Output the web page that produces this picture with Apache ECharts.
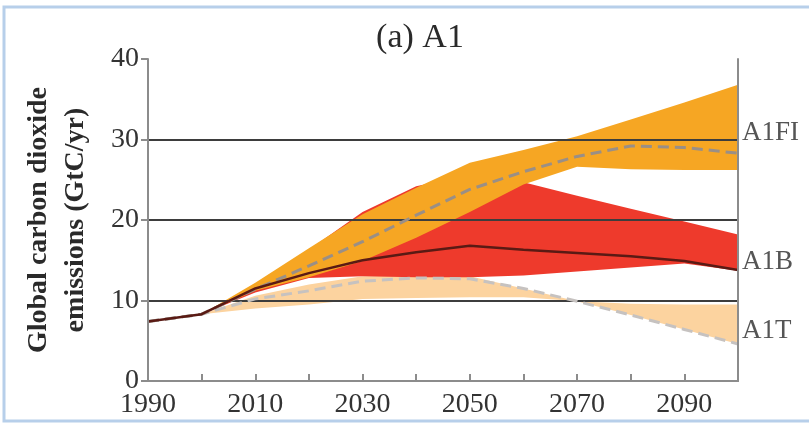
<!DOCTYPE html>
<html>
<head>
<meta charset="utf-8">
<title>(a) A1</title>
<script src="https://cdn.jsdelivr.net/npm/echarts@6/dist/echarts.min.js"></script>
<style>
  html, body { margin: 0; padding: 0; background: #ffffff; }
  #chart { width: 809px; height: 427px; }
</style>
</head>
<body>
<div id="chart"></div>
<script>
// Scenario ranges (GtC/yr) at decade points
const bandYears = [2000, 2010, 2020, 2030, 2040, 2050, 2060, 2070, 2080, 2090, 2100];
const a1fiUpper = [8.3, 12.2, 16.5, 20.7, 24.0, 27.1, 28.7, 30.4, 32.5, 34.6, 36.8];
const a1fiLower = [8.3, 11.2, 12.9, 14.9, 17.8, 21.0, 24.4, 26.6, 26.3, 26.2, 26.2];
const a1bUpper  = [8.3, 11.8, 16.3, 21.0, 24.2, 25.6, 24.7, 23.0, 21.4, 19.8, 18.2];
const a1bLower  = [8.3, 11.0, 12.8, 13.0, 12.9, 12.9, 13.1, 13.6, 14.1, 14.6, 13.7];
const a1tUpper  = [8.3, 10.6, 12.0, 13.0, 13.1, 13.0, 11.5, 9.9, 9.6, 9.5, 9.5];
const a1tLower  = [8.3, 9.0, 9.5, 10.2, 10.3, 10.4, 10.4, 9.9, 8.2, 6.4, 4.6];

// Marker scenario paths, starting from the 1990 level
const lineYears = [1990, 2000, 2010, 2020, 2030, 2040, 2050, 2060, 2070, 2080, 2090, 2100];
const a1fiLine  = [7.4, 8.3, 11.4, 14.3, 17.3, 20.6, 23.8, 26.0, 27.9, 29.2, 29.0, 28.3];
const a1bLine   = [7.4, 8.3, 11.5, 13.4, 15.0, 16.0, 16.8, 16.3, 15.9, 15.5, 14.9, 13.8];
const a1tLine   = [7.4, 8.3, 10.2, 11.2, 12.4, 12.8, 12.7, 11.5, 9.9, 8.2, 6.4, 4.6];

// Axis ticks and end-of-line scenario labels
const yTicks = [0, 10, 20, 30, 40];
const gridValues = [10, 20, 30];
const scenarioNames = ['A1FI', 'A1B', 'A1T'];
const scenarioLabelY = [30.8, 14.8, 6.2];

const SERIF = '"Liberation Serif", "DejaVu Serif", serif';
const AXIS_GRAY = '#8c8c8c';

function zip(xs, ys) { return xs.map((x, i) => [x, ys[i]]); }

function bandSeries(name, upper, lower, color, z) {
  return {
    type: 'custom',
    name: name,
    z: z,
    silent: true,
    data: [[bandYears[0], lower[0]]],
    renderItem: function (params, api) {
      const pts = [];
      for (let i = 0; i < bandYears.length; i++) pts.push(api.coord([bandYears[i], upper[i]]));
      for (let i = bandYears.length - 1; i >= 0; i--) pts.push(api.coord([bandYears[i], lower[i]]));
      return { type: 'polygon', shape: { points: pts }, style: { fill: color } };
    }
  };
}

const chart = echarts.init(document.getElementById('chart'), null, { renderer: 'canvas' });

chart.setOption({
  animation: false,
  backgroundColor: '#ffffff',
  title: {
    text: '(a) A1',
    left: 415,
    top: 16,
    textAlign: 'center',
    textStyle: { fontFamily: SERIF, fontSize: 34, fontWeight: 'normal', color: '#2a2a2a' }
  },
  graphic: [{
    type: 'rect',
    silent: true,
    shape: { x: 4, y: 7, width: 812, height: 414 },
    style: { fill: 'none', stroke: '#b7cfea', lineWidth: 3 }
  }],
  grid: { left: 148, right: 71, top: 59, bottom: 46 },
  xAxis: [{
    type: 'value',
    min: 1990, max: 2100, interval: 10,
    z: 10,
    axisLine: { lineStyle: { color: AXIS_GRAY, width: 2 } },
    axisTick: { inside: true, length: 7, lineStyle: { color: AXIS_GRAY, width: 2 } },
    axisLabel: {
      fontFamily: SERIF, fontSize: 28, color: '#333333', margin: 10,
      formatter: v => ((v - 1990) % 20 === 0 && v < 2100) ? String(v) : ''
    },
    splitLine: { show: false }
  }, {
    type: 'value',
    position: 'top',
    min: 1990, max: 2100,
    z: 10,
    axisLine: { show: true, lineStyle: { color: AXIS_GRAY, width: 2 } },
    axisTick: { show: false },
    axisLabel: { show: false },
    splitLine: { show: false }
  }],
  yAxis: [{
    type: 'value',
    min: yTicks[0], max: yTicks[yTicks.length - 1], interval: 10,
    z: 10,
    name: 'Global carbon dioxide\nemissions (GtC/yr)',
    nameLocation: 'middle',
    nameRotate: 90,
    nameGap: 54,
    nameTextStyle: { fontFamily: SERIF, fontSize: 28, fontWeight: 'bold', color: '#2a2a2a', lineHeight: 37 },
    axisLine: { show: true, lineStyle: { color: AXIS_GRAY, width: 2 } },
    axisTick: { show: true, inside: false, length: 7, lineStyle: { color: AXIS_GRAY, width: 2 } },
    axisLabel: { fontFamily: SERIF, fontSize: 28, color: '#333333', margin: 9 },
    splitLine: { show: false }
  }, {
    type: 'value',
    position: 'right',
    min: 0, max: 40,
    z: 10,
    axisLine: { show: true, lineStyle: { color: AXIS_GRAY, width: 2 } },
    axisTick: { show: false },
    axisLabel: { show: false },
    splitLine: { show: false }
  }],
  series: [
    bandSeries('A1T range', a1tUpper, a1tLower, '#fcd39f', 2),
    bandSeries('A1B range', a1bUpper, a1bLower, '#ee3a2c', 3),
    bandSeries('A1FI range', a1fiUpper, a1fiLower, '#f6a623', 4),
    {
      type: 'line',
      name: 'A1T',
      z: 5,
      data: zip(lineYears, a1tLine),
      showSymbol: false,
      lineStyle: { color: '#c6c2c0', width: 3, type: [11, 6] },
      markLine: {
        silent: true,
        symbol: 'none',
        label: { show: false },
        lineStyle: { color: '#3d3d3d', width: 2, type: 'solid' },
        data: gridValues.map(v => ({ yAxis: v }))
      }
    },
    {
      type: 'line',
      name: 'A1FI',
      z: 6,
      data: zip(lineYears, a1fiLine),
      showSymbol: false,
      lineStyle: { color: '#9a8f86', width: 3, type: [11, 6] }
    },
    {
      type: 'line',
      name: 'A1B',
      z: 7,
      data: zip(lineYears, a1bLine),
      showSymbol: false,
      lineStyle: { color: '#5a1a14', width: 2.5 }
    },
    {
      type: 'scatter',
      name: 'labels',
      z: 8,
      clip: false,
      silent: true,
      symbolSize: 0,
      data: scenarioNames.map((n, i) => ({ name: n, value: [2100, scenarioLabelY[i]] })),
      label: {
        show: true,
        position: 'right',
        distance: 4,
        formatter: p => p.name,
        fontFamily: SERIF,
        fontSize: 27,
        color: '#2a2a2a'
      }
    }
  ]
});
</script>
</body>
</html>
